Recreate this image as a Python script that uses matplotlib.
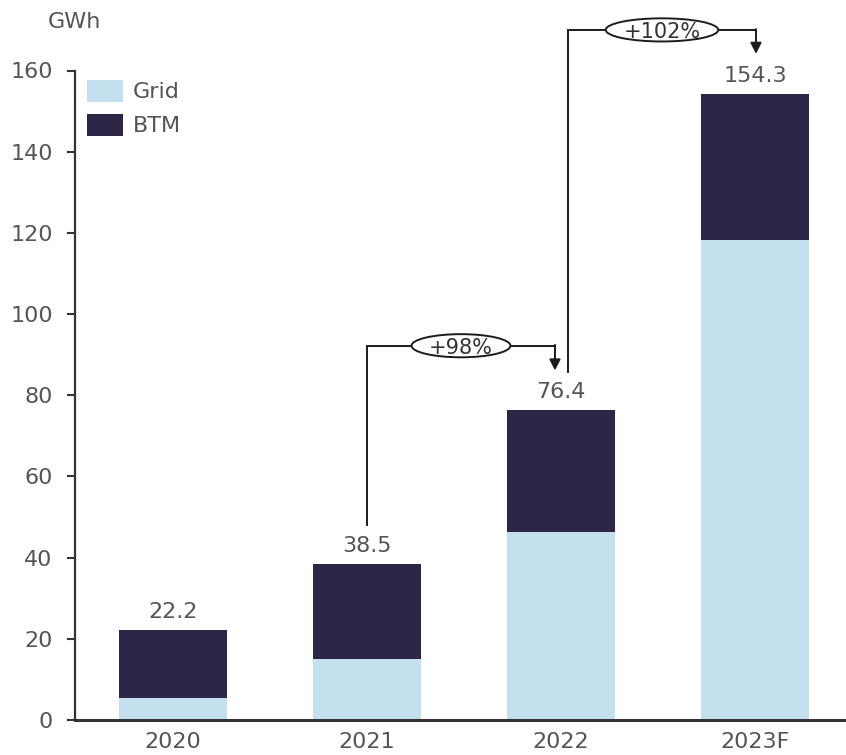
import matplotlib.pyplot as plt
from matplotlib.patches import Ellipse

years = ["2020", "2021", "2022", "2023F"]
grid = [5.3, 15.1, 46.2, 118.3]
totals = [22.2, 38.5, 76.4, 154.3]
btm = [t - g for t, g in zip(totals, grid)]
growth_labels = ["+98%", "+102%"]

GRID_C = "#c4e0ee"
BTM_C = "#2d2646"
TEXT_C = "#555555"
LINE_C = "#1c1c1c"

fig = plt.figure(figsize=(8.46, 7.55), dpi=100)
ax = fig.add_axes([75 / 846, 35 / 755, 771 / 846, 649.5 / 755])

x = list(range(len(years)))
ax.bar(x, grid, width=0.557, color=GRID_C, label="Grid", zorder=2)
ax.bar(x, btm, bottom=grid, width=0.557, color=BTM_C, label="BTM", zorder=2)

for xi, t in zip(x, totals):
    ax.annotate(f"{t}", (xi, t), xytext=(0, 12), textcoords="offset pixels",
                ha="center", va="baseline", fontsize=16, color=TEXT_C)

# growth connectors: from bar i to bar j
# (i, j, x-offset out, line bottom, level y, x-offset in, arrow tip)
connectors = [
    (1, 2, 0.0, 48.1, 92.2, -0.031, 86.1),
    (2, 3, 0.036, 85.8, 170.0, 0.005, 164.1),
]
for (i, j, dx_out, y0, yh, dx_in, tip), lab in zip(connectors, growth_labels):
    xs = x[i] + dx_out
    xe = x[j] + dx_in
    ax.plot([xs, xs, xe], [y0, yh, yh], color=LINE_C, lw=1.4,
            clip_on=False, zorder=3, solid_joinstyle="miter")
    ax.annotate("", xy=(xe, tip), xytext=(xe, yh + 0.2),
                arrowprops=dict(arrowstyle="-|>,head_length=0.65,head_width=0.33",
                                color=LINE_C, lw=1.4, shrinkA=0, shrinkB=0),
                annotation_clip=False, zorder=3)
    xc = (xs + xe) / 2
    w = 0.51 if len(lab) == 4 else 0.58
    ax.add_patch(Ellipse((xc, yh), w, 5.7, fc="white", ec=LINE_C, lw=1.4,
                         clip_on=False, zorder=4))
    ax.text(xc, yh, lab, ha="center", va="center_baseline", fontsize=15,
            color="#333333", zorder=5)

ax.set_xlim(-0.505, 3.469)
ax.set_ylim(0, 160)
ax.set_xticks(x)
ax.set_xticklabels(years)
ax.set_yticks(range(0, 161, 20))
ax.tick_params(axis="x", length=0, pad=9, labelsize=16, labelcolor=TEXT_C)
ax.tick_params(axis="y", length=6, width=1.5, color="#333333", pad=10,
               labelsize=16, labelcolor=TEXT_C)
for s in ["top", "right"]:
    ax.spines[s].set_visible(False)
ax.spines["left"].set_linewidth(1.6)
ax.spines["left"].set_color("#333333")
ax.spines["bottom"].set_linewidth(2.2)
ax.spines["bottom"].set_color("#333333")

leg = ax.legend(loc="upper left", bbox_to_anchor=(12 / 771, (649.5 - 9) / 649.5),
                frameon=False, fontsize=16, handlelength=1.6, handleheight=1.2,
                handletextpad=0.45, labelspacing=0.5, borderpad=0, borderaxespad=0)
for t in leg.get_texts():
    t.set_color(TEXT_C)

fig.text(48 / 846, 1 - 22 / 755, "GWh", ha="left", va="center",
         fontsize=16, color=TEXT_C)

fig.savefig("out.png", dpi=100)
